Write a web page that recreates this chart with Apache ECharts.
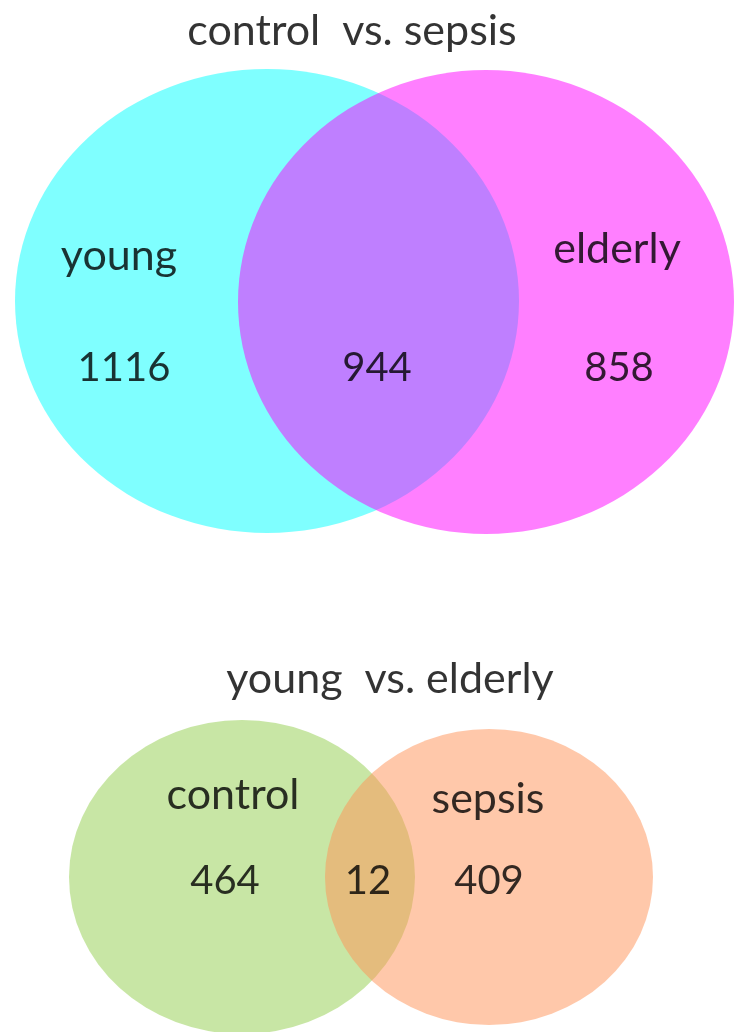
<!DOCTYPE html>
<html>
<head>
<meta charset="utf-8">
<script src="https://cdn.jsdelivr.net/npm/echarts@6/dist/echarts.min.js"></script>
<style>
  html, body { margin: 0; padding: 0; background: #fff; }
  #main { width: 734px; height: 1032px; }
</style>
</head>
<body>
<div id="main"></div>
<script>
  // data: comparison titles, set names, region counts (onlyA, both, onlyB)
  var topTitle = "control  vs. sepsis";
  var topSets = ["young", "elderly"];
  var topCounts = [1116, 944, 858];

  var bottomTitle = "young  vs. elderly";
  var bottomSets = ["control", "sepsis"];
  var bottomCounts = [464, 12, 409];

  // layout (page pixels): ellipse [cx, cy, rx, ry]
  var topShapes = [[267, 301, 252, 232], [486, 302, 248, 232]];
  var topColors = ["#00ffff", "#ff00ff"];
  var topTitlePos = [352, 31];
  var topNamePos = [[119, 256], [617, 249]];
  var topCountPos = [[124, 368], [377, 368], [619, 368]];

  var bottomShapes = [[242, 877, 173, 157], [489, 877, 164, 148]];
  var bottomColors = ["#91cd4b", "#ff9155"];
  var bottomTitlePos = [390, 679];
  var bottomNamePos = [[233, 795], [488, 799]];
  var bottomCountPos = [[225, 881], [368, 881], [489, 881]];

  var myChart = echarts.init(document.getElementById("main"));
  var font = "Lato";
  var series = [];

  function addVenn(shapes, colors) {
    shapes.forEach(function(s, i) {
      series.push({
        type: "scatter",
        silent: true,
        z: 2 + i,
        symbol: "circle",
        symbolSize: [s[2] * 2, s[3] * 2],
        itemStyle: { color: colors[i], opacity: 0.5 },
        data: [[s[0], s[1]]]
      });
    });
  }

  function addText(items, size) {
    series.push({
      type: "scatter",
      silent: true,
      z: 10,
      symbolSize: 1,
      itemStyle: { color: "rgba(0,0,0,0)" },
      label: {
        show: true,
        position: "inside",
        formatter: "{b}",
        color: "#000",
        fontFamily: font,
        fontSize: size
      },
      data: items
    });
  }

  function pts(pos, texts) {
    return texts.map(function(t, i) {
      return { name: String(t), value: pos[i] };
    });
  }

  addVenn(topShapes, topColors);
  addVenn(bottomShapes, bottomColors);
  addText(pts([topTitlePos, bottomTitlePos], [topTitle, bottomTitle]), 43);
  addText(pts(topNamePos, topSets), 43);
  addText(pts(topCountPos, topCounts), 40);
  addText(pts(bottomNamePos, bottomSets), 43);
  addText(pts(bottomCountPos, bottomCounts), 40);

  var option = {
    animation: false,
    backgroundColor: "#fff",
    grid: { left: 0, right: 0, top: 0, bottom: 0 },
    xAxis: { type: "value", min: 0, max: 734, show: false },
    yAxis: { type: "value", min: 0, max: 1032, inverse: true, show: false },
    series: series
  };
  myChart.setOption(option);
</script>
</body>
</html>
